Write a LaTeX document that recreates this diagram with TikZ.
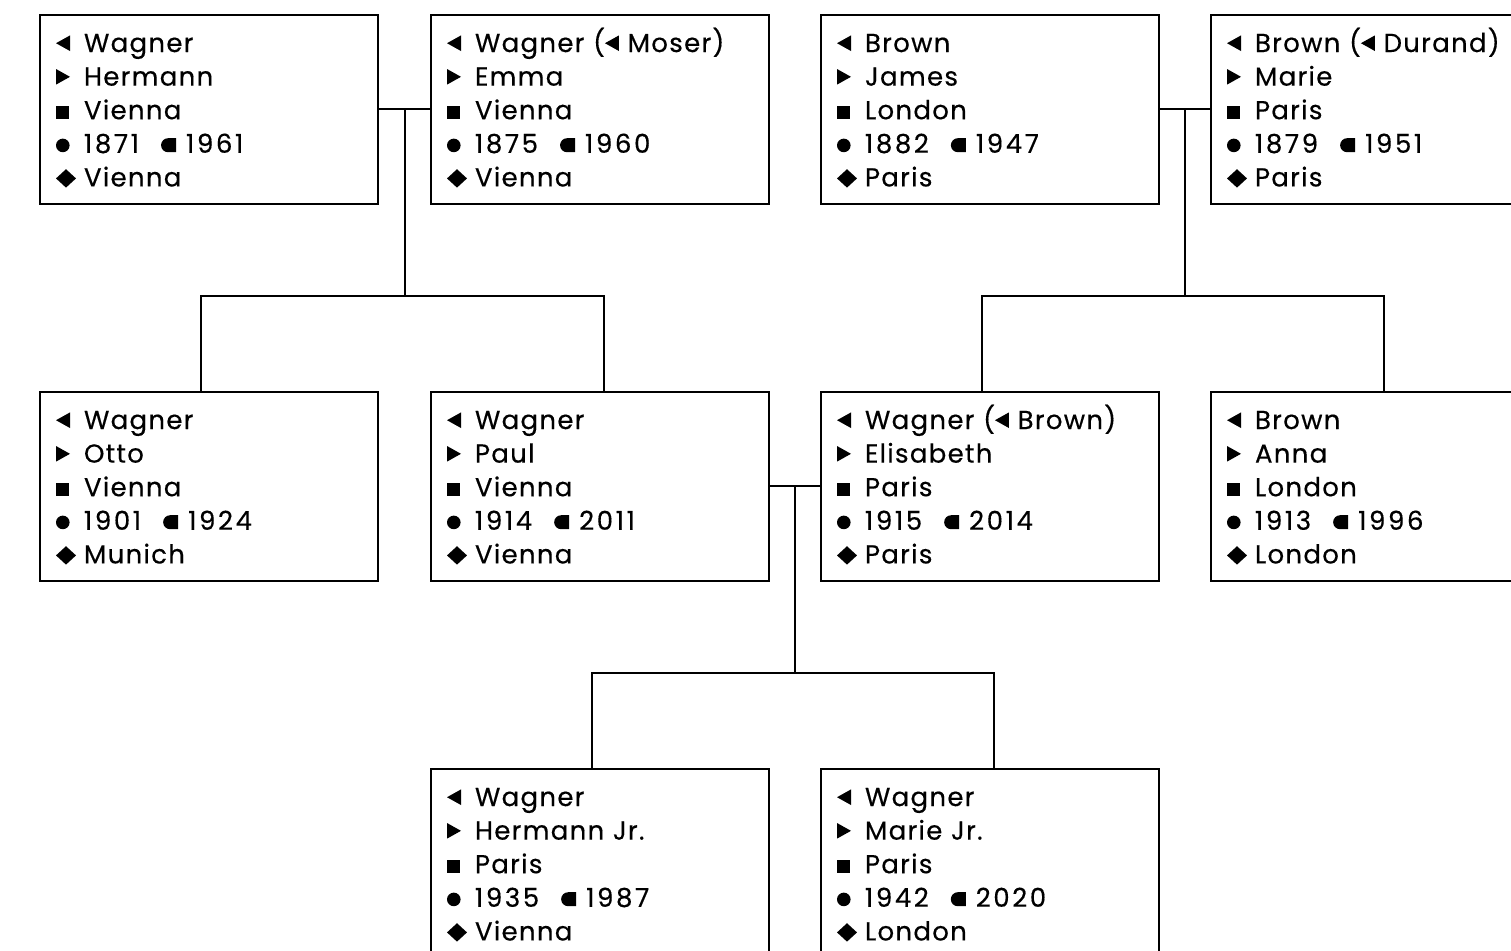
\documentclass[tikz,border=0pt]{standalone}
\usepackage{fontspec}
\setmainfont{Poppins}[LetterSpace=5, FakeBold=0.4]
\usetikzlibrary{calc}

% symbols of the entries
\newcommand{\famsym}{\tikz[baseline=0pt]\fill (0pt,4.4pt) -- (7pt,0.5pt) -- (7pt,8.3pt) -- cycle;}
\newcommand{\givsym}{\tikz[baseline=0pt]\fill (7pt,4.4pt) -- (0pt,0.5pt) -- (0pt,8.3pt) -- cycle;}
\newcommand{\homesym}{\tikz[baseline=0pt]\fill (0pt,0.3pt) rectangle (6.5pt,6.8pt);}
\newcommand{\birthsym}{\tikz[baseline=0pt]\fill (3.4pt,3.7pt) circle[radius=3.4pt];}
\newcommand{\deathsym}{\tikz[baseline=0pt]\fill (7.6pt,7.3pt) -- (3.6pt,7.3pt) arc[start angle=90, end angle=270, radius=3.5pt] -- (7.6pt,0.3pt) -- cycle;}
\newcommand{\restsym}{\tikz[baseline=0pt]\fill (0pt,4pt) -- (5pt,-0.6pt) -- (10pt,4pt) -- (5pt,8.6pt) -- cycle;}
\newcommand{\entry}[2]{\vphantom{(}\makebox[14pt][l]{#1}#2}
\newcommand{\yr}[1]{{\addfontfeature{LetterSpace=10}#1}}
\newcommand{\years}[2]{\entry{\birthsym}{\yr{#1}}\hspace{11pt}\deathsym\hspace{5pt}\yr{#2}}

\tikzset{
  person/.style={draw, line width=1pt, anchor=north west, inner xsep=8pt,
    inner ysep=0pt, text width=153pt, minimum height=94.5pt, align=left,
    font=\fontsize{13}{16.8}\selectfont},
  link/.style={line width=1pt}
}

\begin{document}
\begin{tikzpicture}[x=0.5pt,y=-0.5pt]
  \useasboundingbox (0,0) rectangle (1511,951);
  \clip (0,0) rectangle (1511,951);

  % grandparents
  \node[person] (hermann) at (39,14) {\entry{\famsym}{Wagner}\\ \entry{\givsym}{Hermann}\\ \entry{\homesym}{Vienna}\\ \years{1871}{1961}\\ \entry{\restsym}{Vienna}};
  \node[person] (emma) at (430,14) {\entry{\famsym}{Wagner (\famsym\ Moser)}\\ \entry{\givsym}{Emma}\\ \entry{\homesym}{Vienna}\\ \years{1875}{1960}\\ \entry{\restsym}{Vienna}};
  \node[person] (james) at (820,14) {\entry{\famsym}{Brown}\\ \entry{\givsym}{James}\\ \entry{\homesym}{London}\\ \years{1882}{1947}\\ \entry{\restsym}{Paris}};
  \node[person] (marieb) at (1210,14) {\entry{\famsym}{Brown (\famsym\ Durand)}\\ \entry{\givsym}{Marie}\\ \entry{\homesym}{Paris}\\ \years{1879}{1951}\\ \entry{\restsym}{Paris}};

  % parents
  \node[person] (otto) at (39,391) {\entry{\famsym}{Wagner}\\ \entry{\givsym}{Otto}\\ \entry{\homesym}{Vienna}\\ \years{1901}{1924}\\ \entry{\restsym}{Munich}};
  \node[person] (paul) at (430,391) {\entry{\famsym}{Wagner}\\ \entry{\givsym}{Paul}\\ \entry{\homesym}{Vienna}\\ \years{1914}{2011}\\ \entry{\restsym}{Vienna}};
  \node[person] (elisabeth) at (820,391) {\entry{\famsym}{Wagner (\famsym\ Brown)}\\ \entry{\givsym}{Elisabeth}\\ \entry{\homesym}{Paris}\\ \years{1915}{2014}\\ \entry{\restsym}{Paris}};
  \node[person] (anna) at (1210,391) {\entry{\famsym}{Brown}\\ \entry{\givsym}{Anna}\\ \entry{\homesym}{London}\\ \years{1913}{1996}\\ \entry{\restsym}{London}};

  % children
  \node[person] (hermannjr) at (430,768) {\entry{\famsym}{Wagner}\\ \entry{\givsym}{Hermann Jr.}\\ \entry{\homesym}{Paris}\\ \years{1935}{1987}\\ \entry{\restsym}{Vienna}};
  \node[person] (mariejr) at (820,768) {\entry{\famsym}{Wagner}\\ \entry{\givsym}{Marie Jr.}\\ \entry{\homesym}{Paris}\\ \years{1942}{2020}\\ \entry{\restsym}{London}};

  % couples and their children
  \draw[link] (hermann.east) -- (emma.west);
  \coordinate (fam1) at ($(hermann.east)!.5!(emma.west)$);
  \draw[link] (fam1) -- ++(0,187.5);
  \draw[link] ([xshift=-4pt]otto.north) -- ++(0,-95) -| ([xshift=2pt]paul.north);

  \draw[link] (james.east) -- (marieb.west);
  \coordinate (fam2) at ($(james.east)!.5!(marieb.west)$);
  \draw[link] (fam2) -- ++(0,187.5);
  \draw[link] ([xshift=-4pt]elisabeth.north) -- ++(0,-95) -| ([xshift=2pt]anna.north);

  \draw[link] (paul.east) -- (elisabeth.west);
  \coordinate (fam3) at ($(paul.east)!.5!(elisabeth.west)$);
  \draw[link] (fam3) -- ++(0,187.5);
  \draw[link] ([xshift=-4pt]hermannjr.north) -- ++(0,-95) -| ([xshift=2pt]mariejr.north);
\end{tikzpicture}
\end{document}
